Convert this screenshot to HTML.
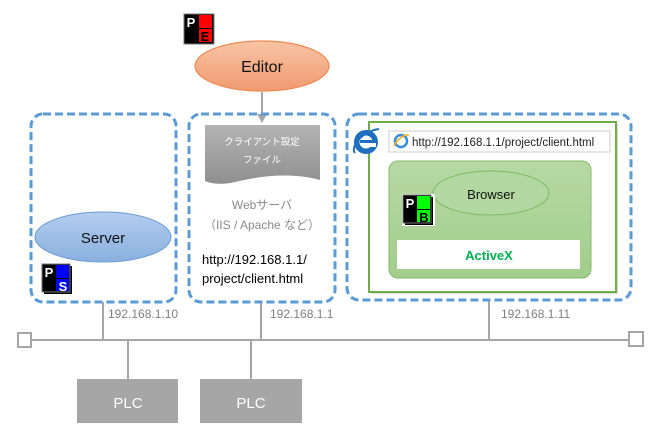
<!DOCTYPE html>
<html><head><meta charset="utf-8"><style>
html,body{margin:0;padding:0;background:#fff;}
svg{display:block;font-family:"Liberation Sans","Noto Sans CJK JP",sans-serif;}
</style></head><body>
<svg width="666" height="440" viewBox="0 0 666 440" xmlns="http://www.w3.org/2000/svg">
<defs>
<linearGradient id="og" x1="0" y1="0" x2="0" y2="1"><stop offset="0" stop-color="#f8c4a4"/><stop offset="1" stop-color="#f19a70"/></linearGradient>
<linearGradient id="bg" x1="0" y1="0" x2="0" y2="1"><stop offset="0" stop-color="#b3cdee"/><stop offset="1" stop-color="#8ab0df"/></linearGradient>
<linearGradient id="gg" x1="0" y1="0" x2="0" y2="1"><stop offset="0" stop-color="#b6d9a4"/><stop offset="1" stop-color="#a2cd8b"/></linearGradient>
<linearGradient id="dg" x1="0" y1="0" x2="0" y2="1"><stop offset="0" stop-color="#b4b4b4"/><stop offset="1" stop-color="#8f8f8f"/></linearGradient>
</defs>
<!-- network -->
<g stroke="#a6a6a6" stroke-width="2" fill="none">
<line x1="31" y1="340" x2="629" y2="340"/>
<rect x="18" y="333" width="13" height="14" fill="#fff"/>
<rect x="629" y="332" width="14" height="14" fill="#fff"/>
<line x1="103" y1="302" x2="103" y2="340"/>
<line x1="261" y1="302" x2="261" y2="340"/>
<line x1="489" y1="300" x2="489" y2="340"/>
<line x1="128" y1="340" x2="128" y2="379"/>
<line x1="251" y1="340" x2="251" y2="379"/>
<line x1="262" y1="92" x2="262" y2="116"/>
</g>
<polygon points="257,114 267,114 262,123" fill="#a6a6a6"/>
<g font-size="12" fill="#808080">
<text x="108" y="318">192.168.1.10</text>
<text x="270" y="318">192.168.1.1</text>
<text x="501" y="318">192.168.1.11</text>
</g>
<rect x="77" y="379" width="101" height="44" fill="#a6a6a6"/>
<text x="128" y="408" text-anchor="middle" font-size="15" fill="#fff">PLC</text>
<rect x="200" y="379" width="102" height="44" fill="#a6a6a6"/>
<text x="251" y="408" text-anchor="middle" font-size="15" fill="#fff">PLC</text>
<!-- dashed boxes -->
<g stroke="#5b9bd5" stroke-width="3" stroke-dasharray="8,4" fill="none">
<rect x="31" y="114" width="145" height="188" rx="12"/>
<rect x="189" y="114" width="146" height="188" rx="12"/>
<rect x="347" y="114" width="284" height="186" rx="12"/>
</g>
<!-- editor -->
<ellipse cx="262" cy="66" rx="67" ry="25" fill="url(#og)" stroke="#ed8a52" stroke-width="1.2"/>
<text x="262" y="72" text-anchor="middle" font-size="16" fill="#111">Editor</text>
<g transform="translate(184,14)">
<rect x="0" y="0" width="30" height="30" fill="#000" stroke="#777"/>
<rect x="15" y="1" width="13" height="13" fill="#f00"/>
<rect x="15" y="15" width="13" height="13" fill="#f00"/>
<text x="7" y="13" text-anchor="middle" font-size="13" font-weight="bold" fill="#fff">P</text>
<text x="21" y="27" text-anchor="middle" font-size="13" font-weight="bold" fill="#000">E</text>
</g>
<!-- document -->
<path d="M205,125 H320 V180 C290,172 260,176 235,182 C222,185 212,184 205,181 Z" fill="url(#dg)"/>
<text x="262" y="145" text-anchor="middle" font-size="9.5" fill="#fff">クライアント設定</text>
<text x="262" y="163" text-anchor="middle" font-size="9.5" fill="#fff">ファイル</text>
<text x="262" y="209" text-anchor="middle" font-size="12" fill="#8a8a8a">Webサーバ</text>
<text x="262" y="229" text-anchor="middle" font-size="12" fill="#8a8a8a">（IIS / Apache など）</text>
<text x="202" y="264" font-size="13" fill="#000">http://192.168.1.1/</text>
<text x="202" y="283" font-size="13" fill="#000">project/client.html</text>
<!-- server -->
<ellipse cx="103" cy="237" rx="68" ry="25" fill="url(#bg)" stroke="#6b9bd4" stroke-width="1"/>
<text x="103" y="243" text-anchor="middle" font-size="15" fill="#111">Server</text>
<g transform="translate(42,264)">
<rect x="2" y="2" width="28" height="28" fill="#000"/>
<rect x="0" y="0" width="28" height="28" fill="#000" stroke="#777"/>
<rect x="14" y="1" width="13" height="13" fill="#00f"/>
<rect x="14" y="15" width="13" height="12" fill="#00f"/>
<text x="7" y="13" text-anchor="middle" font-size="13" font-weight="bold" fill="#fff">P</text>
<text x="21" y="27" text-anchor="middle" font-size="13" font-weight="bold" fill="#fff">S</text>
</g>
<!-- client window -->
<rect x="371" y="124" width="247" height="170" fill="#aaa" opacity="0.4"/>
<rect x="369" y="122" width="247" height="170" fill="#fff" stroke="#70ad47" stroke-width="2"/>
<rect x="389" y="131" width="221" height="21" fill="#fff" stroke="#ccc"/>
<circle cx="401" cy="141" r="6" fill="none" stroke="#3a8fd8" stroke-width="2.5"/>
<path d="M394,146 C400,134 410,134 408,136" stroke="#f2b01e" stroke-width="1.5" fill="none"/>
<text x="412" y="146" font-size="11.5" fill="#222">http://192.168.1.1/project/client.html</text>
<!-- IE icon -->
<g transform="translate(352,127)">
<circle cx="14" cy="15" r="12" fill="#1e6fc0"/>
<circle cx="14" cy="15" r="6.5" fill="#fff"/>
<rect x="8" y="13" width="13" height="3" fill="#1e6fc0"/>
<rect x="15" y="16" width="9" height="4" fill="#fff"/>
<path d="M3,26 C-2,20 10,4 27,2" stroke="#1e6fc0" stroke-width="2" fill="none"/>
</g>
<rect x="389" y="161" width="202" height="117" rx="9" fill="url(#gg)" stroke="#85bb6a"/>
<ellipse cx="491" cy="193" rx="58" ry="22" fill="#b3d7a0" stroke="#7fb961"/>
<text x="491" y="199" text-anchor="middle" font-size="13" fill="#111">Browser</text>
<g transform="translate(402,194)">
<rect x="0" y="0" width="33" height="32" fill="#fff"/>
<rect x="3" y="3" width="28" height="28" fill="#000"/>
<rect x="1" y="1" width="28" height="28" fill="#000" stroke="#777"/>
<rect x="15" y="2" width="13" height="13" fill="#0f0"/>
<rect x="15" y="16" width="13" height="12" fill="#0f0"/>
<text x="8" y="14" text-anchor="middle" font-size="13" font-weight="bold" fill="#fff">P</text>
<text x="22" y="28" text-anchor="middle" font-size="13" font-weight="bold" fill="#000">B</text>
</g>
<rect x="397" y="240" width="183" height="29" fill="#fff"/>
<text x="489" y="260" text-anchor="middle" font-size="13" font-weight="bold" fill="#00b050">ActiveX</text>
</svg>
</body></html>
